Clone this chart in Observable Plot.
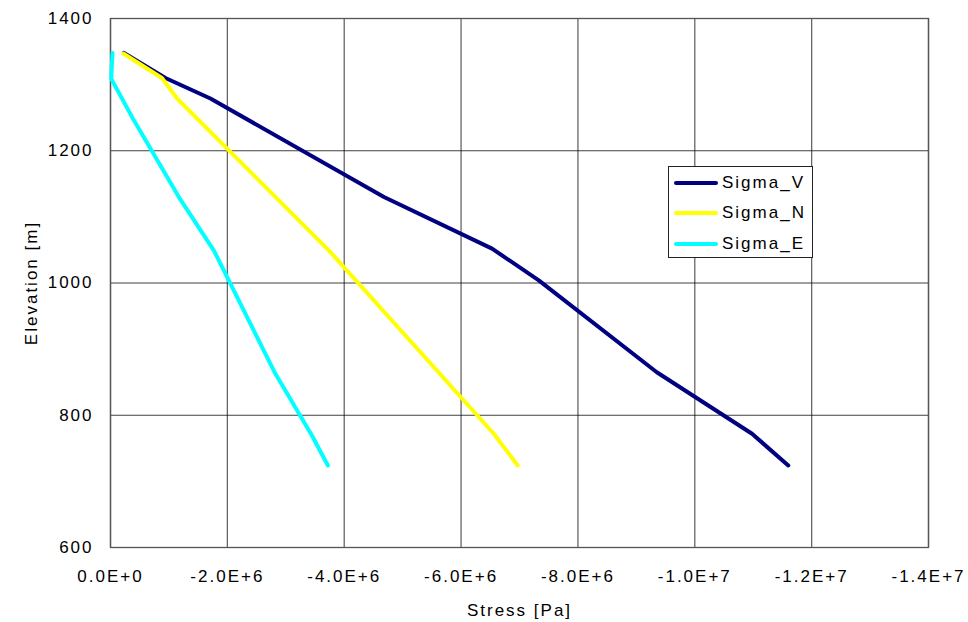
<!DOCTYPE html>
<html>
<head>
<meta charset="utf-8">
<script src="https://cdn.jsdelivr.net/npm/d3@7"></script>
<script src="https://cdn.jsdelivr.net/npm/@observablehq/plot@0.6"></script>
<style>
  html, body { margin: 0; padding: 0; background: #fff; }
  #wrap { position: relative; width: 968px; height: 622px; }
  #wrap svg text { letter-spacing: 2px; font-size: 17px; fill: #000; }
  .legend { position: absolute; left: 668px; top: 166px; width: 145px; height: 92px;
    border: 1px solid #222; background: #fff; box-sizing: border-box;
    font-family: "Liberation Sans", Arial, sans-serif; font-size: 17px; letter-spacing: 2px; color: #000; }
  .legend .row { position: absolute; left: 5px; height: 20px; display: flex; align-items: center; }
  .legend .sw { width: 44px; height: 4px; border-radius: 2px; margin-right: 4px; }
</style>
</head>
<body>
<div id="wrap"></div>
<script>
// Elevations (m) and stresses (Pa)
const elevV = [1348, 1310, 1279, 1130, 1052, 1004, 865, 772, 724];
const sigmaV = [-0.23e6, -0.94e6, -1.71e6, -4.68e6, -6.53e6, -7.33e6, -9.35e6, -10.98e6, -11.6e6];
const elevN = [1347, 1310, 1279, 1049, 772, 724];
const sigmaN = [-0.22e6, -0.88e6, -1.14e6, -3.74e6, -6.56e6, -6.97e6];
const elevE = [1348, 1309, 1246, 1130, 1049, 863, 769, 724];
const sigmaE = [-0.034e6, -0.012e6, -0.40e6, -1.17e6, -1.77e6, -2.82e6, -3.45e6, -3.72e6];

const seriesNames = ["Sigma_V", "Sigma_N", "Sigma_E"];
const seriesColors = ["#000080", "#FFFF00", "#00FFFF"];

const xTicks = [0, -2e6, -4e6, -6e6, -8e6, -10e6, -12e6, -14e6];
const xTickLabels = ["0.0E+0", "-2.0E+6", "-4.0E+6", "-6.0E+6", "-8.0E+6", "-1.0E+7", "-1.2E+7", "-1.4E+7"];
const yTicks = [600, 800, 1000, 1200, 1400];

const toRows = (name, xs, ys) => xs.map((v, i) => ({series: name, stress: v, elev: ys[i]}));
const rowsV = toRows("Sigma_V", sigmaV, elevV);
const rowsN = toRows("Sigma_N", sigmaN, elevN);
const rowsE = toRows("Sigma_E", sigmaE, elevE);

const chart = Plot.plot({
  width: 968,
  height: 622,
  marginLeft: 110,
  marginRight: 40,
  marginTop: 18,
  marginBottom: 75,
  style: {fontFamily: "'Liberation Sans', Arial, sans-serif", fontSize: "17px", color: "#000", background: "#fff"},
  x: {domain: [0, -14e6]},
  y: {domain: [600, 1400]},
  marks: [
    Plot.ruleX(xTicks, {stroke: "#000", strokeOpacity: 0.6, strokeWidth: 1.3}),
    Plot.ruleY(yTicks, {stroke: "#000", strokeOpacity: 0.75, strokeWidth: 1}),
    Plot.frame({stroke: "#555", strokeWidth: 1.3}),
    Plot.axisX(xTicks, {
      tickSize: 0, tickPadding: 22,
      tickFormat: (d) => xTickLabels[xTicks.indexOf(d)],
      label: "Stress [Pa]", labelAnchor: "center", labelArrow: "none", labelOffset: 68,
      fontSize: 17
    }),
    Plot.axisY(yTicks, {
      tickSize: 0, tickPadding: 17, tickFormat: (d) => String(d),
      label: "Elevation [m]", labelAnchor: "center", labelArrow: "none", labelOffset: 86,
      fontSize: 17
    }),
    Plot.line(rowsV, {x: "stress", y: "elev", stroke: seriesColors[0], strokeWidth: 4, strokeLinejoin: "round", strokeLinecap: "round"}),
    Plot.line(rowsN, {x: "stress", y: "elev", stroke: seriesColors[1], strokeWidth: 4, strokeLinejoin: "round", strokeLinecap: "round"}),
    Plot.line(rowsE, {x: "stress", y: "elev", stroke: seriesColors[2], strokeWidth: 4, strokeLinejoin: "round", strokeLinecap: "round"})
  ]
});

const wrap = document.getElementById("wrap");
wrap.appendChild(chart);

const legend = document.createElement("div");
legend.className = "legend";
const rowTops = [6, 36, 67];
seriesNames.forEach((name, i) => {
  const row = document.createElement("div");
  row.className = "row";
  row.style.top = rowTops[i] + "px";
  const sw = document.createElement("div");
  sw.className = "sw";
  sw.style.background = seriesColors[i];
  const label = document.createElement("span");
  label.textContent = name;
  row.appendChild(sw);
  row.appendChild(label);
  legend.appendChild(row);
});
wrap.appendChild(legend);
</script>
</body>
</html>
